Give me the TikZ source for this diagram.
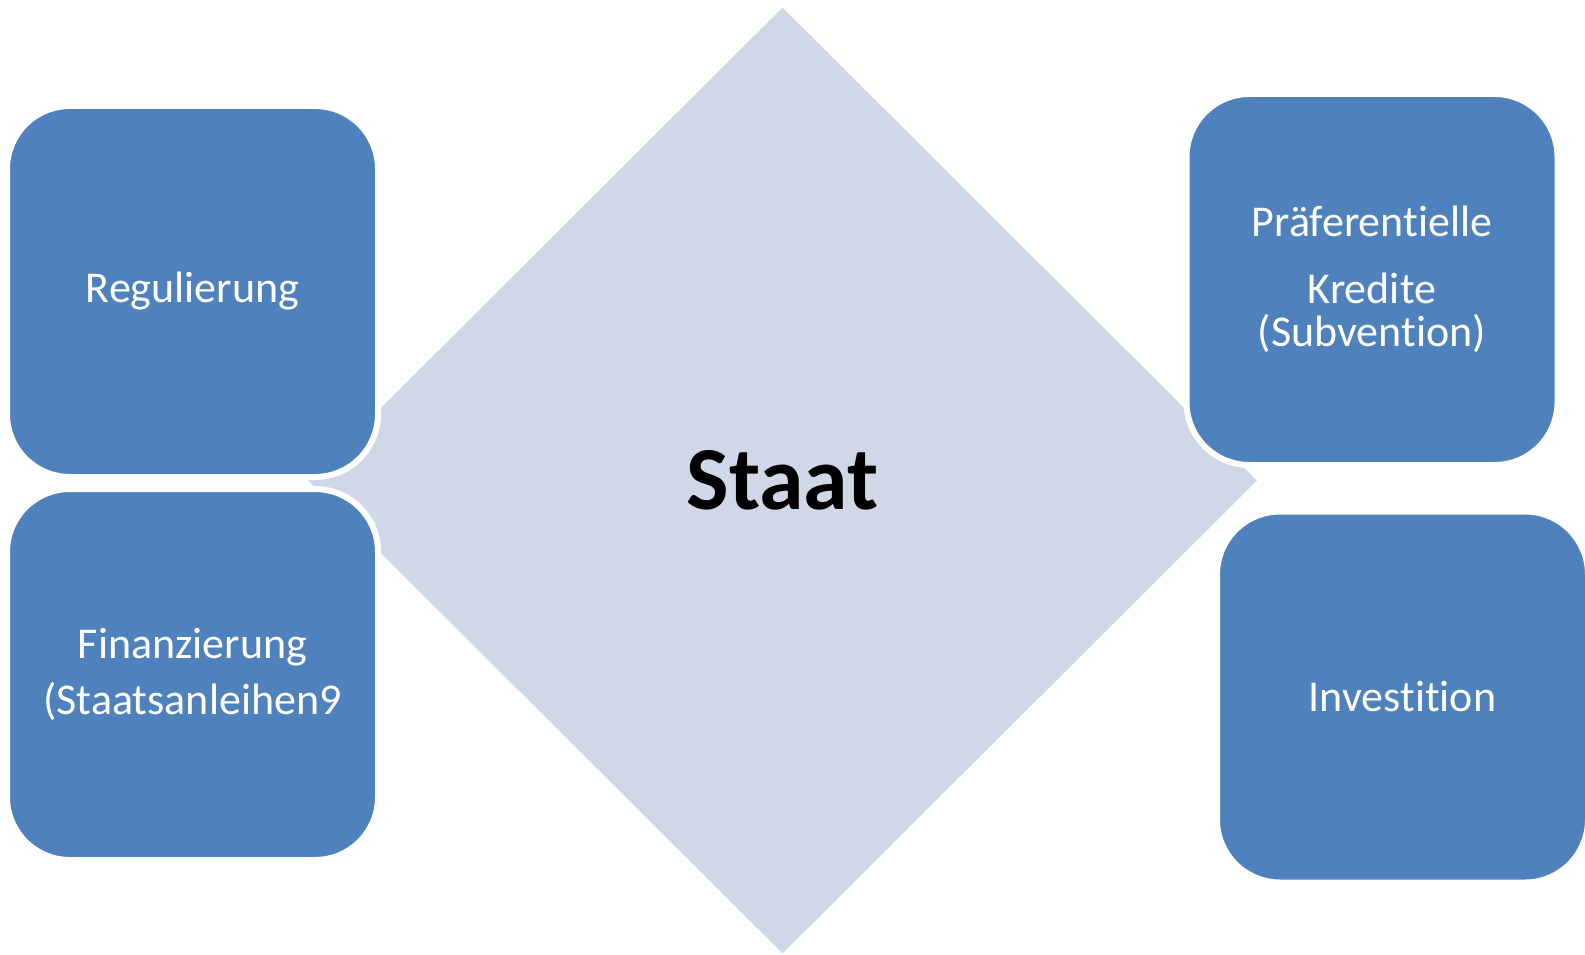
\documentclass[tikz,border=0pt]{standalone}
\usepackage{fontspec}
\setmainfont{Carlito}[Ligatures={NoCommon,NoRare,NoContextual}]
\usepackage{tikz}
\usetikzlibrary{positioning,shapes.geometric}
\definecolor{boxblue}{RGB}{79,129,189}
\definecolor{staatgrey}{RGB}{208,216,232}
\newcommand{\nt}{t\kern0pt i}
\tikzstyle{sbox}=[rectangle,rounded corners=63pt,draw=white,line width=6pt,fill=boxblue,
                  minimum width=371pt,minimum height=371pt,inner sep=0pt,align=center,
                  text=white,font=\fontsize{44}{43}\selectfont]
\tikzstyle{kern}=[diamond,aspect=1,fill=staatgrey,minimum width=949pt,minimum height=946pt,
                  inner sep=0pt,font=\fontsize{90}{90}\selectfont\bfseries]

\begin{document}
\begin{tikzpicture}[x=1pt,y=-1pt]
      \fill[white] (0,0) rectangle (1585,955);
      \useasboundingbox (0,0) rectangle (1585,955);
      \node[kern] (staat) at (782.5,480.5) {\raisebox{-3pt}{Staat}};

      \node[sbox] (reg) at (192.5,291.5) {Regulierung};
      \node[sbox] (fin) at (192.5,674.5) {\raisebox{5pt}{\parbox{300pt}{\centering Finanzierung\\[13pt](Staatsanleihen9}}};
      \node[sbox] (kred) at (1372,279.5) {Präferen\nt elle\\[24pt]Kredite\\(Subven\nt on)};
      \node[sbox] (inv) at (1402.5,697) {Inves\nt\nt on};
    \end{tikzpicture}
\end{document}
